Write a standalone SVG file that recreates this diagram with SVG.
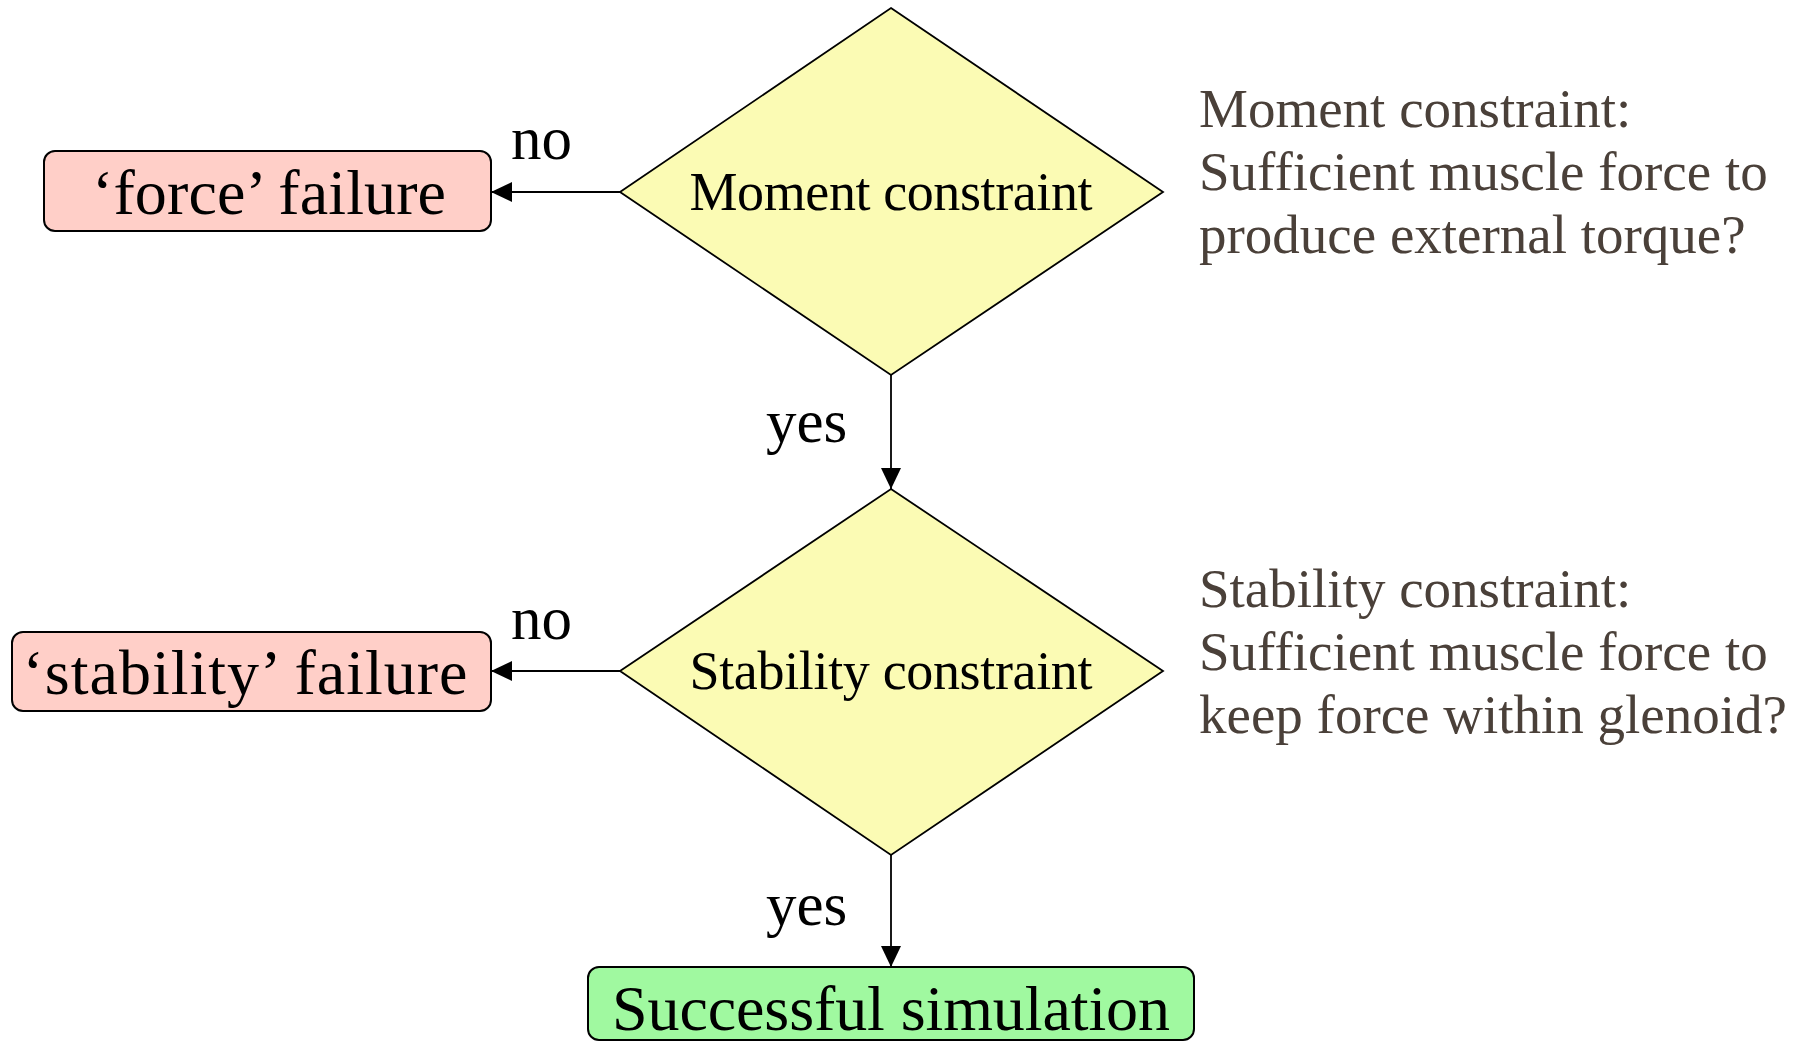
<svg xmlns="http://www.w3.org/2000/svg" width="1811" height="1042" viewBox="0 0 1811 1042">
  <defs>
    <marker id="arrow" viewBox="0 0 21 20" refX="21" refY="10" markerWidth="21" markerHeight="20" markerUnits="userSpaceOnUse" orient="auto">
      <path d="M0,0 L21,10 L0,20 Z" fill="#000"/>
    </marker>
    <style>
      .fail { fill: #ffcfc8; stroke: #000; stroke-width: 2; }
      .ok { fill: #a0f9a0; stroke: #000; stroke-width: 2; }
      .decision { fill: #fbfbb4; stroke: #000; stroke-width: 1.8; }
      .edge { fill: none; stroke: #000; stroke-width: 1.8; }
      .big { font-family: "Liberation Serif", "Times New Roman", serif; font-size: 64px; fill: #000; text-anchor: middle; }
      .mid { font-family: "Liberation Serif", "Times New Roman", serif; font-size: 54px; fill: #000; text-anchor: middle; }
      .lbl { font-family: "Liberation Serif", "Times New Roman", serif; font-size: 61px; fill: #000; }
      .note { font-family: "Liberation Serif", "Times New Roman", serif; font-size: 55px; fill: #4a4039; }
    </style>
  </defs>
  <rect width="1811" height="1042" fill="#fff"/>

  <g id="connectors">
    <path class="edge" d="M620,192 L491,192" marker-end="url(#arrow)"/>
    <path class="edge" d="M891,375 L891,489" marker-end="url(#arrow)"/>
    <path class="edge" d="M620,671 L491,671" marker-end="url(#arrow)"/>
    <path class="edge" d="M891,855 L891,967" marker-end="url(#arrow)"/>
    <text class="lbl" x="511" y="159">no</text>
    <text class="lbl" x="766" y="442">yes</text>
    <text class="lbl" x="511" y="639">no</text>
    <text class="lbl" x="766" y="925">yes</text>
  </g>

  <g id="moment">
    <polygon class="decision" points="891,8 1163,192 891,375 620,192"/>
    <text class="mid" x="891" y="210" textLength="403" lengthAdjust="spacing">Moment constraint</text>
  </g>

  <g id="stability">
    <polygon class="decision" points="891,489 1163,671 891,855 620,671"/>
    <text class="mid" x="891" y="689" textLength="403" lengthAdjust="spacing">Stability constraint</text>
  </g>

  <g id="force-failure">
    <rect class="fail" x="44" y="151" width="447" height="80" rx="11"/>
    <text class="big" x="269" y="214" textLength="354" lengthAdjust="spacing">‘force’ failure</text>
  </g>

  <g id="stability-failure">
    <rect class="fail" x="12" y="632" width="479" height="79" rx="11"/>
    <text class="big" x="245" y="694" textLength="445" lengthAdjust="spacing">‘stability’ failure</text>
  </g>

  <g id="success">
    <rect class="ok" x="588" y="967" width="606" height="73" rx="11"/>
    <text class="big" x="891" y="1030" textLength="558" lengthAdjust="spacing">Successful simulation</text>
  </g>

  <g id="moment-note">
    <text class="note" x="1199" y="127">Moment constraint:</text>
    <text class="note" x="1199" y="190">Sufficient muscle force to</text>
    <text class="note" x="1199" y="253">produce external torque?</text>
  </g>

  <g id="stability-note">
    <text class="note" x="1199" y="607">Stability constraint:</text>
    <text class="note" x="1199" y="670">Sufficient muscle force to</text>
    <text class="note" x="1199" y="733">keep force within glenoid?</text>
  </g>
</svg>
